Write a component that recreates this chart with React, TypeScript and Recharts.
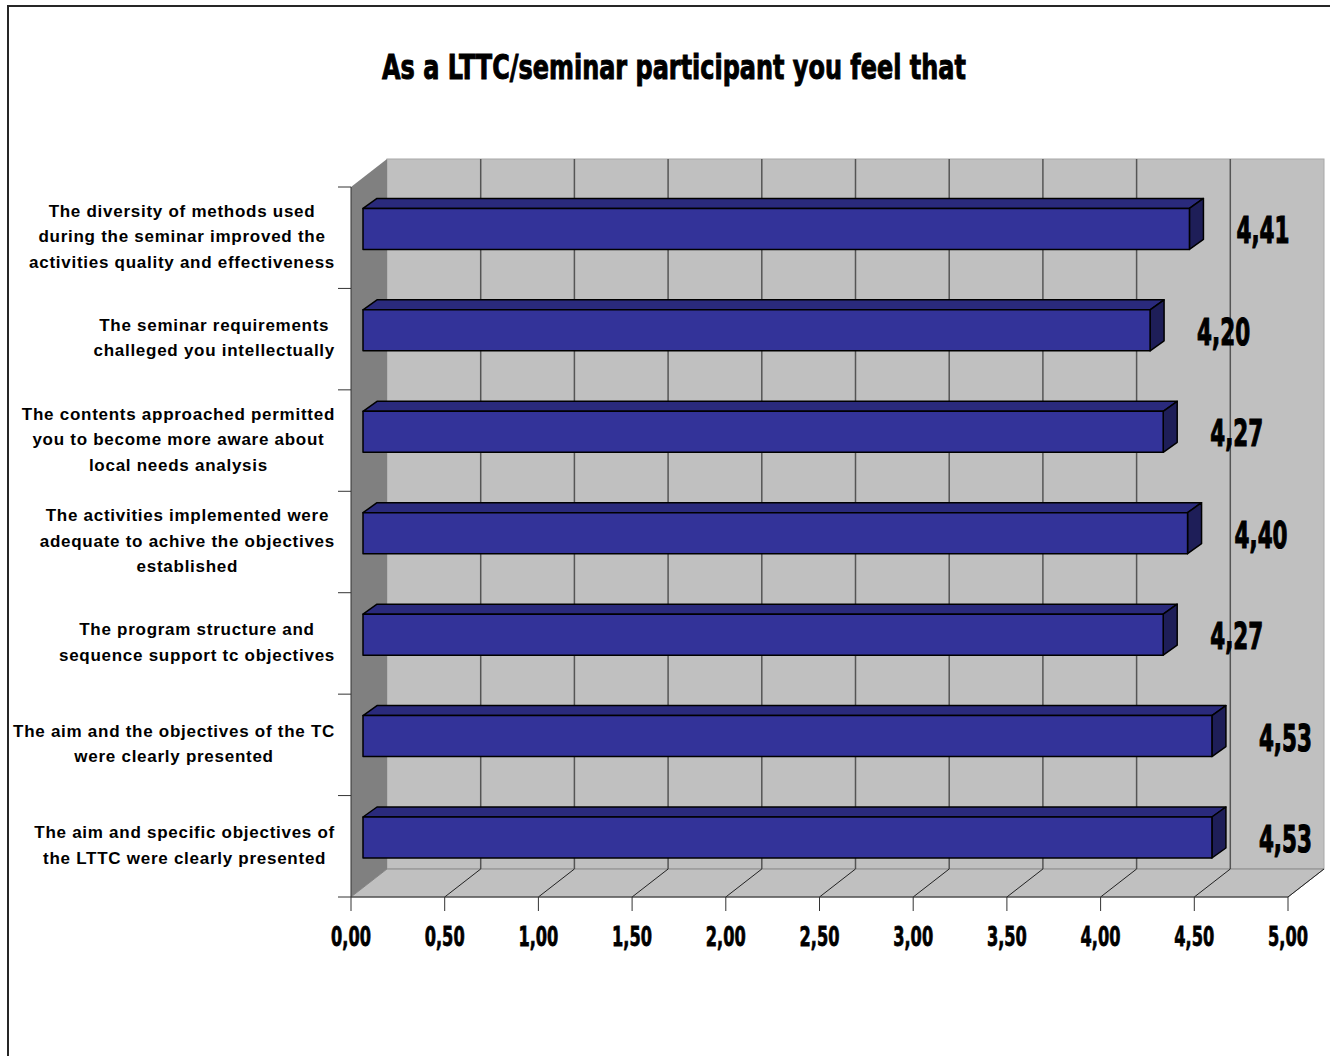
import React from 'react'
import {
  BarChart,
  Bar,
  XAxis,
  YAxis,
  CartesianGrid,
  ReferenceArea,
  LabelList,
} from 'recharts'

const categories = [
  'The diversity of methods used\nduring the seminar improved the\nactivities quality and effectiveness',
  'The seminar requirements\nchalleged you intellectually',
  'The contents approached permitted\nyou to become more aware about\nlocal needs analysis',
  'The activities implemented were\nadequate to achive the objectives\nestablished',
  'The program structure and\nsequence support tc objectives',
  'The aim and the objectives of the TC\nwere clearly presented',
  'The aim and specific objectives of\nthe LTTC were clearly presented',
]
const scores = [4.41, 4.2, 4.27, 4.4, 4.27, 4.53, 4.53]
const xTicks = [0, 0.5, 1, 1.5, 2, 2.5, 3, 3.5, 4, 4.5, 5]
const title = 'As a LTTC/seminar participant you feel that'

const data = categories.map((name, i) => ({ name, value: scores[i] }))

// 3D look: depth of the whole box, where the bar front sits, and bar thickness
const DEPTH = { dx: 36, dy: -28 }
const BAR_FRONT = { dx: 12, dy: -9 }
const BAR_DEPTH = { dx: 14, dy: -10 }

const W = 1330
const H = 1056
const LABEL_FONT = 'bold 17px "Liberation Sans", Arial, sans-serif'
const LABEL_SPACING = 0.73
const CONDENSED = '"DejaVu Sans", Roboto, sans-serif'

const fmt = (v: number) => v.toFixed(2).replace('.', ',')

let measureCtx: CanvasRenderingContext2D | null = null
function textWidth(s: string, font: string, spacing = 0) {
  if (!measureCtx) {
    measureCtx = document.createElement('canvas').getContext('2d')
  }
  if (!measureCtx) return s.length * 9
  measureCtx.font = font
  return measureCtx.measureText(s).width + spacing * s.length
}

// bold text squeezed horizontally to a given width (stand-in for a condensed face)
function Squeezed(props: any) {
  const { x, y, width, fontSize, anchor = 'start', strokeWidth = 1, children } = props
  const text = String(children)
  const natural = textWidth(text, `bold ${fontSize}px ${CONDENSED}`)
  const sx = natural > 0 ? width / natural : 1
  const left = anchor === 'middle' ? x - width / 2 : x
  return (
    <g transform={`translate(${left},${y}) scale(${sx},1)`}>
      <text
        x={0}
        y={0}
        fontFamily={CONDENSED}
        fontWeight="bold"
        fontSize={fontSize}
        fill="#000"
        stroke="#000"
        strokeWidth={strokeWidth}
      >
        {text}
      </text>
    </g>
  )
}

// walls, floor and the category tick marks at band edges
function Backdrop(props: any) {
  const { x, y, width, height } = props
  const { dx, dy } = DEPTH
  const bottom = y + height
  const right = x + width
  const band = height / categories.length
  return (
    <g>
      <rect x={x + dx} y={y + dy} width={width} height={height} fill="#c0c0c0" stroke="#a8a8a8" strokeWidth={1} />
      <polygon
        points={`${x},${bottom} ${x + dx},${bottom + dy} ${right + dx},${bottom + dy} ${right},${bottom}`}
        fill="#c0c0c0"
        stroke="#8a8a8a"
        strokeWidth={1}
      />
      <polygon
        points={`${x},${y} ${x + dx},${y + dy} ${x + dx},${bottom + dy} ${x},${bottom}`}
        fill="#808080"
      />
      {categories.map((_, i) => (
        <line key={i} x1={x - 13} y1={y + i * band} x2={x} y2={y + i * band} stroke="#333" strokeWidth={1} />
      ))}
      <line x1={x - 13} y1={bottom} x2={x} y2={bottom} stroke="#333" strokeWidth={1} />
    </g>
  )
}

function GridLine(props: any) {
  const { x1, y1, y2, index } = props
  const { dx, dy } = DEPTH
  return (
    <g key={`g-${index}`}>
      {index > 0 && index < xTicks.length - 1 && (
        <line x1={x1 + dx} y1={y1 + dy} x2={x1 + dx} y2={y2 + dy} stroke="#555" strokeWidth={1.5} />
      )}
      {index > 0 && (
        <line x1={x1} y1={y2} x2={x1 + dx} y2={y2 + dy} stroke="#222" strokeWidth={1} />
      )}
    </g>
  )
}

function Bar3D(props: any) {
  const { x, y, width, height } = props
  if (!width || width <= 0) return null
  const fx = x + BAR_FRONT.dx
  const fy = y + BAR_FRONT.dy
  const bx = BAR_DEPTH.dx
  const by = BAR_DEPTH.dy
  const r = fx + width
  const b = fy + height
  return (
    <g stroke="#000" strokeWidth={1.5} strokeLinejoin="round">
      <polygon points={`${fx},${fy} ${fx + bx},${fy + by} ${r + bx},${fy + by} ${r},${fy}`} fill="#2a2a7c" />
      <polygon points={`${r},${fy} ${r + bx},${fy + by} ${r + bx},${b + by} ${r},${b}`} fill="#1e1e58" />
      <rect x={fx} y={fy} width={width} height={height} fill="#333399" />
    </g>
  )
}

function ValueLabel(props: any) {
  const { x, y, width, height, value } = props
  const left = x + width + BAR_FRONT.dx + BAR_DEPTH.dx + 33
  const cy = y + BAR_FRONT.dy + height / 2 + 1
  return (
    <Squeezed x={left} y={cy + 13.5} width={53} fontSize={37} strokeWidth={1.2}>
      {fmt(Number(value))}
    </Squeezed>
  )
}

function XTick(props: any) {
  const { x, y, payload } = props
  return (
    <Squeezed x={x} y={y + 33} width={40} fontSize={27} anchor="middle" strokeWidth={0.8}>
      {fmt(payload.value)}
    </Squeezed>
  )
}

function YTick(props: any) {
  const { y, payload } = props
  const lines: string[] = String(payload.value).split('\n')
  const blockRight = 335
  const blockW = Math.max(...lines.map((ln) => textWidth(ln, LABEL_FONT, LABEL_SPACING)))
  const cx = blockRight - blockW / 2
  const lh = 25.5
  return (
    <g>
      {lines.map((ln, i) => (
        <text
          key={i}
          x={cx}
          y={y + (i - (lines.length - 1) / 2) * lh + 4.5}
          textAnchor="middle"
          style={{ font: LABEL_FONT, letterSpacing: `${LABEL_SPACING}px` }}
          fill="#000"
        >
          {ln}
        </text>
      ))}
    </g>
  )
}

export default function App() {
  return (
    <div style={{ position: 'absolute', left: 0, top: 0, width: W, height: H, overflow: 'hidden', background: '#fff' }}>
      <div
        style={{
          position: 'absolute',
          left: 7,
          top: 5,
          width: W + 40,
          height: H + 40,
          border: '2px solid #262626',
          boxSizing: 'border-box',
        }}
      />
      <svg width={W} height={120} style={{ position: 'absolute', left: 0, top: 0 }}>
        <Squeezed x={674} y={79} width={584} fontSize={33} anchor="middle" strokeWidth={1}>
          {title}
        </Squeezed>
      </svg>
      <div style={{ position: 'absolute', left: 0, top: 0 }}>
        <BarChart
          width={W}
          height={H}
          data={data}
          layout="vertical"
          barCategoryGap="30%"
          margin={{ top: 187, right: 42, left: 0, bottom: 109 }}
        >
          <ReferenceArea x1={0} x2={5} ifOverflow="visible" zIndex={-200} shape={(p: any) => <Backdrop {...p} />} />
          <CartesianGrid horizontal={false} vertical={(p: any) => <GridLine {...p} />} />
          <XAxis
            type="number"
            domain={[0, 5]}
            ticks={xTicks}
            interval={0}
            height={50}
            tickSize={14}
            stroke="#333"
            tickLine={{ stroke: '#333' }}
            tick={<XTick />}
          />
          <YAxis
            type="category"
            dataKey="name"
            width={351}
            tickLine={false}
            stroke="#333"
            interval={0}
            tick={<YTick />}
          />
          <Bar dataKey="value" shape={<Bar3D />} isAnimationActive={false}>
            <LabelList dataKey="value" content={<ValueLabel />} />
          </Bar>
        </BarChart>
      </div>
    </div>
  )
}
